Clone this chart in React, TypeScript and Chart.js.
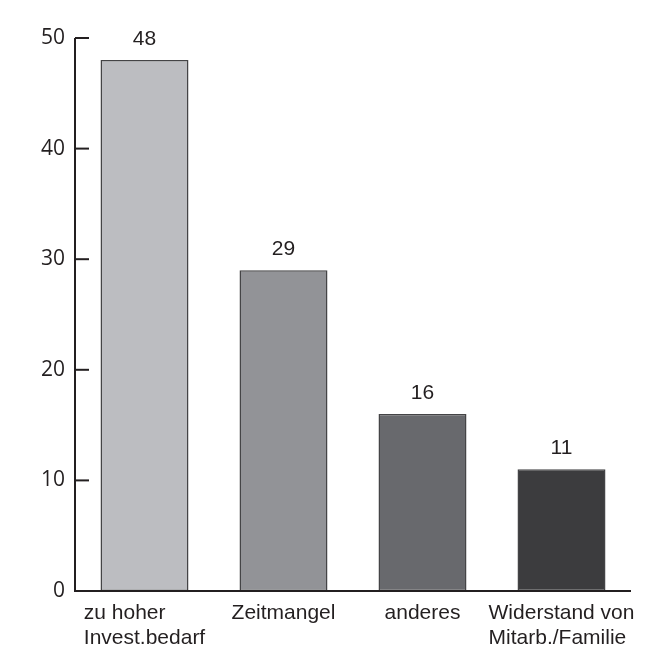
import React, { useEffect, useRef } from "react";
import { Chart, registerables } from "chart.js";

Chart.register(...registerables);

const categories: string[][] = [
  ["zu hoher", "Invest.bedarf"],
  ["Zeitmangel"],
  ["anderes"],
  ["Widerstand von", "Mitarb./Familie"],
];
const values: number[] = [48, 29, 16, 11];
const barColors: string[] = ["#bcbdc1", "#929397", "#68696d", "#3c3c3e"];
const yTicks: number[] = [0, 10, 20, 30, 40, 50];

const INK = "#231f20";

const decorPlugin = {
  id: "decor",
  afterDatasetsDraw(chart: any) {
    const ctx = chart.ctx;
    const area = chart.chartArea;
    const x = chart.scales.x;
    const y = chart.scales.y;
    ctx.save();
    ctx.strokeStyle = INK;
    ctx.lineWidth = 2;
    ctx.beginPath();
    const yTop = y.getPixelForValue(50);
    const yBot = y.getPixelForValue(0);
    ctx.moveTo(area.left, yTop);
    ctx.lineTo(area.left, yBot);
    ctx.lineTo(area.right, yBot);
    ctx.stroke();
    yTicks.forEach((t) => {
      const py = y.getPixelForValue(t);
      ctx.beginPath();
      ctx.moveTo(area.left, py);
      ctx.lineTo(area.left + 14, py);
      ctx.stroke();
    });
    ctx.fillStyle = INK;
    ctx.font = "21px 'Liberation Sans', Arial, sans-serif";
    ctx.textAlign = "center";
    ctx.textBaseline = "alphabetic";
    const meta = chart.getDatasetMeta(0);
    meta.data.forEach((bar: any, i: number) => {
      ctx.fillText(String(values[i]), bar.x, bar.y - 15);
    });
    ctx.textAlign = "left";
    categories.forEach((lines, i) => {
      const cx = x.getPixelForValue(i);
      const w = Math.max(...lines.map((l) => ctx.measureText(l).width));
      const lx = cx - w / 2;
      lines.forEach((l, j) => {
        ctx.fillText(l, lx, yBot + 28 + j * 25);
      });
    });
    ctx.restore();
  },
};

export default function App() {
  const ref = useRef<HTMLCanvasElement>(null);
  useEffect(() => {
    document.body.style.margin = "0";
    const chart = new Chart(ref.current!, {
      type: "bar",
      data: {
        labels: categories.map((c) => c.join(" ")),
        datasets: [
          {
            data: values,
            backgroundColor: barColors,
            borderColor: "#444446",
            borderWidth: 1.5,
            borderSkipped: false,
            categoryPercentage: 1,
            barPercentage: 0.633,
          },
        ],
      },
      options: {
        animation: false,
        responsive: true,
        maintainAspectRatio: false,
        layout: { padding: { top: 38, right: 37, bottom: 59, left: 0 } },
        plugins: { legend: { display: false }, tooltip: { enabled: false } },
        scales: {
          x: {
            display: false,
          },
          y: {
            min: 0,
            max: 50,
            afterFit: (s: any) => {
              s.width = 75;
            },
            afterBuildTicks: (s: any) => {
              s.ticks = yTicks.map((v) => ({ value: v }));
            },
            grid: { display: false, drawTicks: false },
            border: { display: false },
            ticks: {
              padding: 10,
              color: INK,
              font: { family: "'Open Sans', sans-serif", size: 21 },
            },
          },
        },
      },
      plugins: [decorPlugin],
    });
    return () => chart.destroy();
  }, []);
  return (
    <div style={{ width: 668, height: 650, position: "relative" }}>
      <canvas ref={ref} />
    </div>
  );
}
